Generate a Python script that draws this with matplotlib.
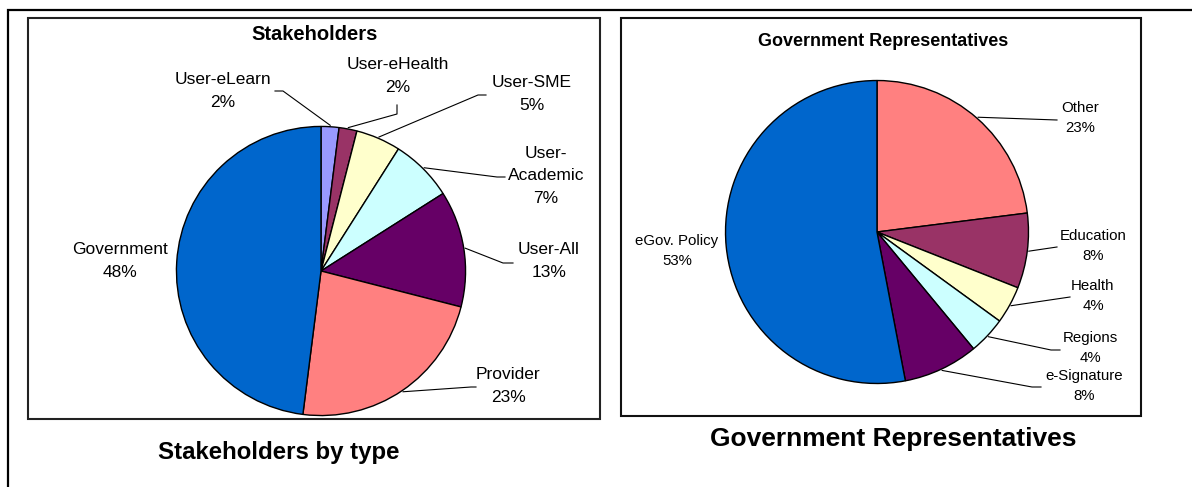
import matplotlib
matplotlib.use("Agg")
import matplotlib.pyplot as plt
import numpy as np

plt.rcParams['font.family'] = ['Liberation Sans', 'DejaVu Sans']

# ---------------- data ----------------
stake_labels = ["User-eLearn", "User-eHealth", "User-SME", "User-\nAcademic", "User-All", "Provider", "Government"]
stake_values = [2, 2, 5, 7, 13, 23, 48]
stake_colors = ["#9999FF", "#993366", "#FFFFCC", "#CCFFFF", "#660066", "#FF8080", "#0066CC"]

gov_labels = ["Other", "Education", "Health", "Regions", "e-Signature", "eGov. Policy"]
gov_values = [23, 8, 4, 4, 8, 53]
gov_colors = ["#FF8080", "#993366", "#FFFFCC", "#CCFFFF", "#660066", "#0066CC"]

W, H = 1192, 487
fig = plt.figure(figsize=(W / 100, H / 100), dpi=100)

ov = fig.add_axes([0, 0, 1, 1])
ov.set_xlim(0, W)
ov.set_ylim(H, 0)
ov.axis('off')

# frames
ov.plot([8, 8, W], [H, 10, 10], color='black', lw=1.6, solid_capstyle='butt', solid_joinstyle='miter')
ov.add_patch(plt.Rectangle((28, 18), 572, 401, fill=False, ec='#222222', lw=1.5))
ov.add_patch(plt.Rectangle((621, 18), 520, 398, fill=False, ec='#111111', lw=1.5))


def pie_axes(cx, cy, r):
    a = fig.add_axes([(cx - r) / W, (H - cy - r) / H, 2 * r / W, 2 * r / H])
    a.axis('off')
    return a


def draw_pie(cx, cy, r, values, colors, labels, label_pos, leaders, fs, ls):
    a = pie_axes(cx, cy, r)
    wedges, _ = a.pie(values, colors=colors, startangle=90, counterclock=False,
                      radius=1.0, wedgeprops=dict(edgecolor='black', linewidth=1.0))
    a.set_xlim(-1.01, 1.01)
    a.set_ylim(-1.01, 1.01)
    for w, v, lab, pos, lead in zip(wedges, values, labels, label_pos, leaders):
        ov.text(pos[0], pos[1], f"{lab}\n{v}%", ha='center', va='center',
                fontsize=fs, linespacing=ls, color='black')
        if lead:
            th = np.deg2rad((w.theta1 + w.theta2) / 2)
            ex, ey = cx + r * np.cos(th), cy - r * np.sin(th)
            xs = [ex] + [p[0] for p in lead]
            ys = [ey] + [p[1] for p in lead]
            ov.plot(xs, ys, color='black', lw=0.8)


# left pie layout
stake_pos = [(223, 91), (398, 76), (532, 94), (546, 176), (549, 261), (508, 386), (120, 261)]
stake_leaders = [[(283, 91), (275, 91)], [(397, 114), (397, 105)], [(478, 95), (486, 95)],
                 [(497, 177), (505, 177)], [(503, 263), (513, 263)], [(471, 387), (476, 387)], None]
draw_pie(321, 271, 146, stake_values, stake_colors, stake_labels, stake_pos, stake_leaders, 12.5, 1.65)

gov_pos = [(1080, 118), (1093, 246), (1093, 296), (1090, 348), (1084, 386), (677, 251)]
gov_leaders = [[(1057, 120)], [(1057, 247)], [(1070, 297)], [(1051, 350), (1060, 350)],
               [(1032, 387), (1041, 387)], None]
draw_pie(877, 232, 153, gov_values, gov_colors, gov_labels, gov_pos, gov_leaders, 10.8, 1.55)

# titles
ov.text(315, 35, "Stakeholders", ha='center', va='center', fontsize=14.5, fontweight='bold')
ov.text(883, 41, "Government Representatives", ha='center', va='center', fontsize=13, fontweight='bold')
ov.text(279, 452, "Stakeholders by type", ha='center', va='center', fontsize=17.3, fontweight='bold')
ov.text(893, 439, "Government Representatives", ha='center', va='center', fontsize=19, fontweight='bold')

fig.savefig("out.png", dpi=100)
